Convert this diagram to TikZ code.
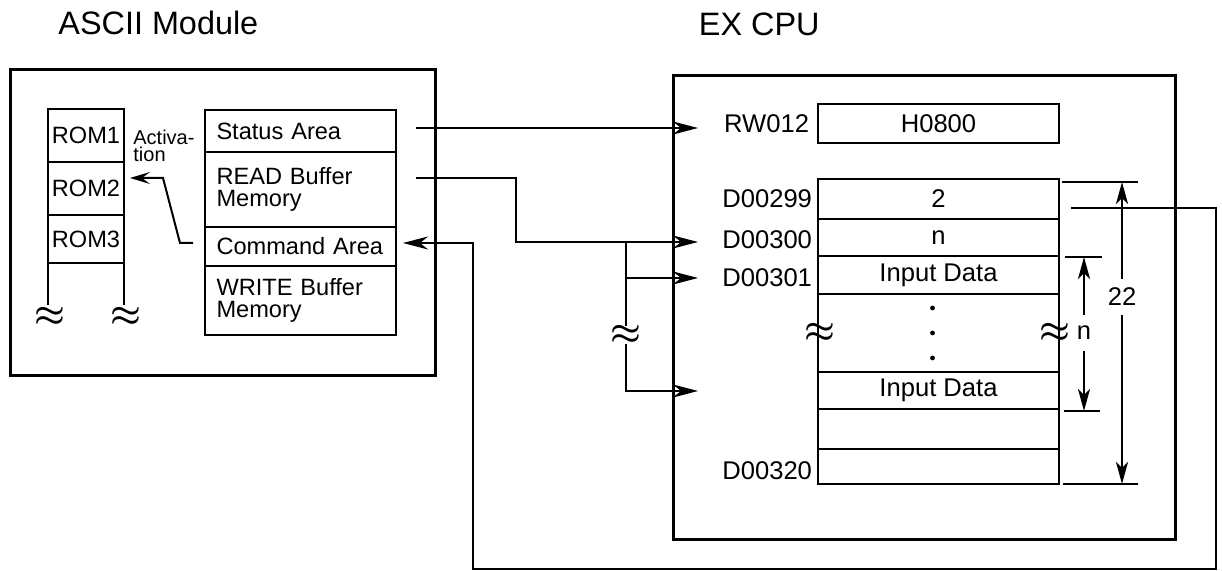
\documentclass[tikz,border=0pt]{standalone}
\usepackage{fontspec}
\setmainfont{Liberation Sans}
\usetikzlibrary{arrows.meta,positioning,calc}
\newcommand{\cellfont}{\fontsize{11.8}{11}\selectfont}
\newcommand{\memfont}{\fontsize{12.8}{14}\selectfont}
\newcommand{\headfont}{\fontsize{16.2}{18}\selectfont}
\newcommand{\actfont}{\fontsize{10}{8.5}\selectfont}

\begin{document}
\begin{tikzpicture}[x=0.5pt, y=-0.5pt,
    frame/.style={draw, line width=1.5pt, outer sep=0pt, inner sep=0pt, anchor=north west},
    cell/.style={draw, line width=1.1pt, outer sep=0pt, inner sep=0pt, font=\cellfont},
    modcell/.style={cell, text width=84pt, inner xsep=5.75pt, align=left},
    memcell/.style={cell, minimum width=120.5pt, font=\memfont},
    addr/.style={inner sep=0pt, outer sep=0pt, font=\memfont},
    link/.style={line width=1pt, -{Stealth[length=12.5pt, width=6.5pt, inset=4pt]}},
    dimtip/.style={line width=1pt, -{Stealth[length=11pt, width=6pt, inset=3pt]}},
    extline/.style={line width=1pt},
    wavy/.style={inner sep=0pt, font=\LARGE\boldmath},
  ]
    \useasboundingbox (0,0) rectangle (1222,571);

    \node[anchor=base west, inner sep=0pt, font=\headfont] (asct) at (58,35) {ASCII Module};
    \node[anchor=base east, inner sep=0pt, font=\headfont] (cput) at (820,36) {EX CPU};

    \node[frame, minimum width=212.5pt, minimum height=153pt] (asc) at (10,70) {};
    \node[frame, minimum width=251pt, minimum height=232pt] (cpu) at (673,76) {};

    % ROM column
    \node[cell, minimum width=38pt, minimum height=26.5pt, anchor=north west] (rom1) at (48,109) {ROM1};
    \node[cell, minimum width=38pt, minimum height=26.5pt, below=0pt of rom1] (rom2) {ROM2};
    \node[cell, minimum width=38pt, minimum height=24pt, below=0pt of rom2] (rom3) {ROM3};
    \draw[line width=1.1pt] (rom3.south west) -- ++(0,42);
    \draw[line width=1.1pt] (rom3.south east) -- ++(0,42);
    \node[wavy] (wvl) at ([xshift=1pt,yshift=-27pt]rom3.south west) {$\approx$};
    \node[wavy] (wvr) at ([xshift=1pt,yshift=-27pt]rom3.south east) {$\approx$};

    % module areas
    \node[modcell, minimum height=21pt, anchor=north west] (stat) at (205,110) {Status Area};
    \node[modcell, minimum height=37.5pt, below=0pt of stat] (rdbuf) {READ Buffer\\Memory};
    \node[modcell, minimum height=19.5pt, below=0pt of rdbuf] (cmd) {Command Area};
    \node[modcell, minimum height=34.5pt, below=0pt of cmd] (wrbuf) {WRITE Buffer\\Memory};

    \node[anchor=north west, inner sep=0pt, align=left, font=\actfont] (act) at (133,130) {Activa-\\tion};
    \coordinate (actbend) at (163,178);
    \draw[line width=1pt, -{Stealth[length=10pt, width=6pt, inset=4pt]}]
        ([xshift=-6pt,yshift=1.75pt]cmd.west) -- ++(-13,0) -- (actbend)
        -- ([xshift=3pt]rom2.east |- actbend);

    % EX CPU registers
    \node[memcell, minimum height=19.5pt, anchor=north west] (rw) at (818,104) {H0800};
    \node[addr, left=4.5pt of rw] (rwl) {RW012};

    \node[memcell, minimum height=20pt, anchor=north west] (m1) at (818,179) {2};
    \foreach \n/\p/\h/\t in {2/1/18.5/n, 3/2/19/Input Data, 4/3/39/{}, 5/4/18.5/Input Data, 6/5/20/{}, 7/6/17.5/{}}
        \node[memcell, minimum height=\h pt, below=0pt of m\p] (m\n) {\t};
    \foreach \d in {-1,0,1}
        \fill ([xshift=-3pt,yshift=\d*12.5pt]m4.center) circle (1.2pt);
    \node[wavy] (wml) at ([xshift=1pt]m4.west) {$\approx$};
    \node[wavy] (wmr) at ([xshift=-2pt]m4.east) {$\approx$};

    \node[addr, left=3pt of m1] (d299) {D00299};
    \node[addr, left=3pt of m2, yshift=-1pt] (d300) {D00300};
    \node[addr, left=3pt of m3, yshift=-1.5pt] (d301) {D00301};
    \node[addr, left=3pt of m7, yshift=-2pt] (d320) {D00320};

    % connections
    \coordinate (rwin) at (698,128);
    \coordinate (in300) at (698,242);
    \coordinate (in301) at (698,278);
    \coordinate (inlast) at (698,391);
    \coordinate (fork) at (626,242);
    \coordinate (loopr) at (1216,569);
    \coordinate (loopl) at (473,243);

    \draw[link] ([xshift=10pt,yshift=1.5pt]stat.east) -- (rwin);
    \draw[link] ([xshift=10pt,yshift=5.75pt]rdbuf.east) -- ++(100,0) |- (in300);
    \draw[link] (fork) |- (in301);
    \draw[link] (fork) |- (inlast);
    \node[wavy, fill=white] (wfork) at (626,335) {$\approx$};
    \draw[link] ([xshift=6pt,yshift=-4.5pt]m1.east) -| (loopr) -| (loopl)
        -- ([xshift=3.5pt,yshift=1.75pt]cmd.east);

    % dimensions
    \draw[extline] (1062,182) -- (1138,182);
    \draw[extline] (1063,484) -- (1138,484);
    \draw[extline] (1065,257) -- (1102,257);
    \draw[extline] (1064,411) -- (1100,411);
    \coordinate (t22) at (1122,182);
    \coordinate (b22) at (1122,484);
    \coordinate (tn) at (1084,257);
    \coordinate (bn) at (1084,411);
    \node[addr, inner ysep=4.5pt] (l22) at (1122,297) {22};
    \node[addr, inner ysep=5.7pt] (ln) at (1084,333) {n};
    \draw[dimtip] (l22) -- (t22);
    \draw[dimtip] (l22) -- (b22);
    \draw[dimtip] (ln) -- (tn);
    \draw[dimtip] (ln) -- (bn);
\end{tikzpicture}
\end{document}
